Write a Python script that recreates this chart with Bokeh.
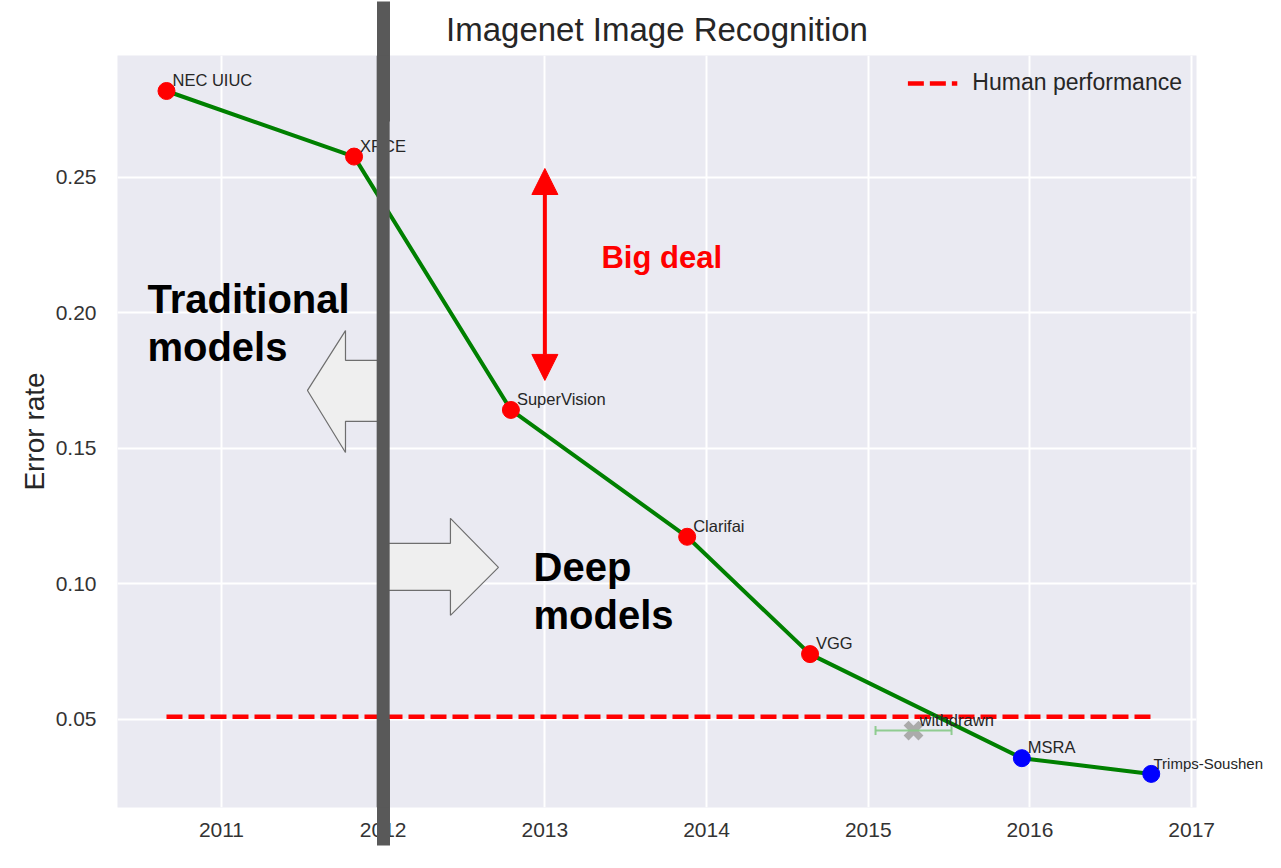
from bokeh.plotting import figure
from bokeh.models import (ColumnDataSource, Range1d, FixedTicker, Arrow, NormalHead, TeeHead, Whisker,
                          Label, LabelSet, Legend, LegendItem, NumeralTickFormatter, LinearAxis, Span,
                          Title)
from bokeh.embed import file_html
from bokeh.resources import INLINE
from bokeh.core.properties import value

# ---------------- data ----------------
names = ["NEC UIUC", "XRCE", "SuperVision", "Clarifai", "VGG", "MSRA", "Trimps-Soushen"]
years = [2010.66, 2011.82, 2012.79, 2013.88, 2014.64, 2015.95, 2016.75]
errors = [0.2819, 0.2577, 0.1642, 0.1174, 0.0741, 0.0357, 0.0299]
point_colors = ["#ff0000", "#ff0000", "#ff0000", "#ff0000", "#ff0000", "#0000ff", "#0000ff"]

withdrawn_name = ["withdrawn"]
withdrawn_year = [2015.28]
withdrawn_error = [0.0459]
withdrawn_lo = [2015.045]
withdrawn_hi = [2015.515]

human_years = [2010.66, 2016.75]
human_error = [0.051, 0.051]

x_ticks = [2011, 2012, 2013, 2014, 2015, 2016, 2017]
y_ticks = [0.05, 0.10, 0.15, 0.20, 0.25]

# annotation geometry (data units)
divider_year = 2012.0
bigdeal_year = 2013.0
bigdeal_lo, bigdeal_hi = 0.1751, 0.2533
left_arrow_x = [2011.532, 2011.767, 2011.767, 2012.0, 2012.0, 2011.767, 2011.767]
left_arrow_y = [0.1714, 0.1935, 0.1825, 0.1825, 0.160, 0.160, 0.1485]
right_arrow_x = [2012.0, 2012.416, 2012.416, 2012.713, 2012.416, 2012.416, 2012.0]
right_arrow_y = [0.115, 0.115, 0.1242, 0.1061, 0.0884, 0.0976, 0.0976]

FONT = "Liberation Sans"
TXT = "#262626"
BAR = "#595959"
BAR_W = 13

W, H = 1265, 852
BL, BR, BT, BB = 117, 68, 55, 45
X0, X1 = 2010.357, 2017.03
Y0, Y1 = 0.0175, 0.295
frame_w = W - BL - BR
frame_h = H - BT - BB

p = figure(width=W, height=H, output_backend="svg", toolbar_location=None,
           x_range=Range1d(X0, X1), y_range=Range1d(Y0, Y1),
           min_border_left=BL, min_border_right=BR, min_border_top=BT, min_border_bottom=BB)
p.title = None

p.add_layout(Title(text="Imagenet Image Recognition", align="center", text_font=FONT,
                   text_font_size="33px", text_font_style="normal", text_color=TXT,
                   standoff=15), "above")

p.background_fill_color = "#eaeaf2"
p.border_fill_color = "white"
p.outline_line_color = None
p.xgrid.grid_line_color = "white"
p.ygrid.grid_line_color = "white"
p.xgrid.grid_line_width = 2
p.ygrid.grid_line_width = 2

p.xaxis.ticker = FixedTicker(ticks=x_ticks)
p.yaxis.ticker = FixedTicker(ticks=y_ticks)
p.yaxis.formatter = NumeralTickFormatter(format="0.00")
for ax in (p.xaxis[0], p.yaxis[0]):
    ax.axis_line_color = None
    ax.major_tick_line_color = None
    ax.minor_tick_line_color = None
    ax.major_tick_out = 0
    ax.major_label_text_font = FONT
    ax.major_label_text_font_size = "21px"
    ax.major_label_text_color = "#333333"
p.xaxis.major_label_standoff = 15
p.yaxis.major_label_standoff = 21
p.yaxis.axis_label = "Error rate"
p.yaxis.axis_label_text_font = FONT
p.yaxis.axis_label_text_font_size = "28px"
p.yaxis.axis_label_text_font_style = "normal"
p.yaxis.axis_label_text_color = TXT
p.yaxis.axis_label_standoff = 3

# block arrows
p.patch(left_arrow_x, left_arrow_y, fill_color="#efefef", line_color="#6e6e6e", line_width=1.2)
p.patch(right_arrow_x, right_arrow_y, fill_color="#efefef", line_color="#6e6e6e", line_width=1.2)

# human performance line
hline = p.line(human_years, human_error, line_color="#ff0000", line_width=4.5, line_dash="16 6")

# withdrawn entry
wsrc = ColumnDataSource(dict(x=withdrawn_year, y=withdrawn_error, lo=withdrawn_lo, hi=withdrawn_hi,
                             name=withdrawn_name))
wcol = "#86c986"
p.add_layout(Whisker(source=wsrc, base="y", lower="lo", upper="hi", dimension="width",
                     line_color=wcol, line_width=2, line_alpha=0.9, level="glyph",
                     lower_head=TeeHead(size=9, line_color=wcol, line_width=2, line_alpha=0.9),
                     upper_head=TeeHead(size=9, line_color=wcol, line_width=2, line_alpha=0.9)))
p.scatter("x", "y", source=wsrc, marker="x", size=21, line_color="#ababab", line_width=7)

# main series
src = ColumnDataSource(dict(x=years, y=errors, name=names, color=point_colors))
p.line("x", "y", source=src, line_color="#008000", line_width=4)
p.scatter("x", "y", source=src, size=17, fill_color="color", line_color="color")

# point labels
lab_src = ColumnDataSource(dict(x=years[:-1], y=errors[:-1], name=names[:-1]))
p.add_layout(LabelSet(x="x", y="y", text="name", source=lab_src, x_offset=6, y_offset=5,
                      text_font=value(FONT), text_font_size="16.5px", text_color=TXT,
                      text_baseline="alphabetic"))
p.add_layout(LabelSet(x="x", y="y", text="name", source=wsrc, x_offset=6, y_offset=5,
                      text_font=value(FONT), text_font_size="16.5px", text_color=TXT,
                      text_baseline="alphabetic"))

# last label reaches past the plot area: draw it as a label of a right-hand axis
px_per_x = frame_w / (X1 - X0)
px_per_y = frame_h / (Y1 - Y0)
last_label_y = errors[-1] + 10 / px_per_y
last_label_start = (years[-1] - X0) * px_per_x + 2
rax = LinearAxis(ticker=FixedTicker(ticks=[last_label_y]),
                 major_label_overrides={last_label_y: names[-1]},
                 axis_line_color=None, major_tick_line_color=None, minor_tick_line_color=None,
                 major_tick_out=0, major_tick_in=0,
                 major_label_standoff=int(round(last_label_start - frame_w)),
                 major_label_text_font=FONT, major_label_text_font_size="15px",
                 major_label_text_color=TXT)
p.add_layout(rax, "right")

# Big deal arrow
p.add_layout(Arrow(x_start=bigdeal_year, y_start=bigdeal_lo, x_end=bigdeal_year, y_end=bigdeal_hi,
                   line_color="#ff0000", line_width=4,
                   start=NormalHead(size=26, fill_color="#ff0000", line_color="#ff0000"),
                   end=NormalHead(size=26, fill_color="#ff0000", line_color="#ff0000")))

p.add_layout(Label(x=2013.35, y=0.2205, text="Big deal", text_font=FONT, text_font_size="31px",
                   text_font_style="bold", text_color="#ff0000", text_baseline="middle"))
for tx, ty, tt in [(2010.542, 0.2053, "Traditional"), (2010.542, 0.1873, "models"),
                   (2012.93, 0.1061, "Deep"), (2012.93, 0.0887, "models")]:
    p.add_layout(Label(x=tx, y=ty, text=tt, text_font=FONT, text_font_size="40px",
                       text_font_style="bold", text_color="black", text_baseline="middle"))

legend = Legend(items=[LegendItem(label="Human performance", renderers=[hline])],
                location="top_right", border_line_color=None, background_fill_alpha=0,
                label_text_font=FONT, label_text_font_size="23px", label_text_color=TXT,
                glyph_width=50, glyph_height=20, label_standoff=15, margin=14, padding=16)
p.add_layout(legend)

# divider bar: inside the plot area ...
p.add_layout(Span(location=divider_year, dimension="height", line_color=BAR, line_width=BAR_W))
# ... and continued above and below it as inward ticks of two bare outer axes
for side, t_in, t_out in [("above", 120, 0), ("below", 120, 6)]:
    bax = LinearAxis(ticker=FixedTicker(ticks=[], minor_ticks=[divider_year]),
                     axis_line_color=None, major_tick_line_color=None,
                     major_label_text_font_size="0px", major_label_standoff=0,
                     major_tick_out=0, major_tick_in=0,
                     minor_tick_line_color=BAR, minor_tick_line_width=BAR_W,
                     minor_tick_in=t_in, minor_tick_out=t_out)
    p.add_layout(bax, side)

open("out.html", "w").write(file_html(p, INLINE))
